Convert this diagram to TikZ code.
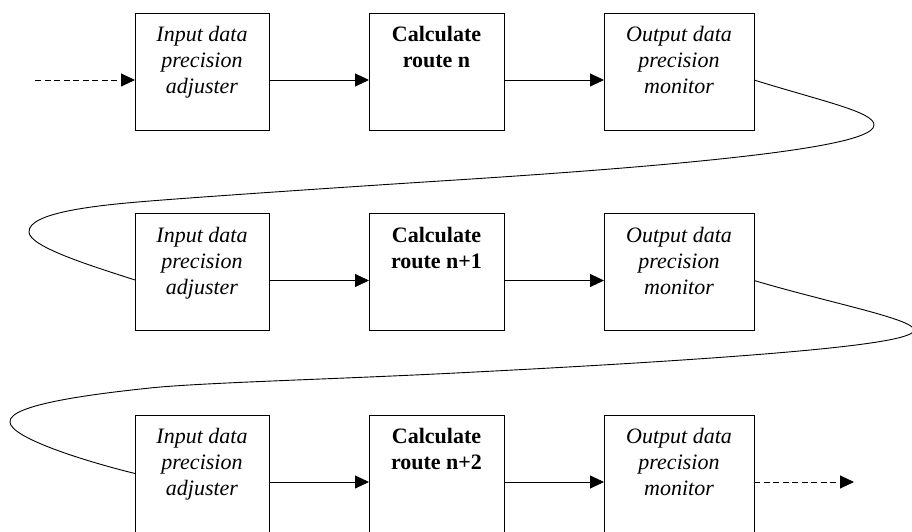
\documentclass[tikz,border=0pt]{standalone}
\usepackage{fontspec}
\setmainfont{Liberation Serif}
\usetikzlibrary{arrows.meta}
\begin{document}
\begin{tikzpicture}[x=1pt,y=1pt,
  box/.style={draw, line width=0.9pt, minimum height=117pt, inner sep=0pt, outer sep=0pt},
  boxtxt/.style={font=\fontsize{22}{26}\selectfont, align=center, inner sep=0pt, anchor=north},
  flow/.style={line width=0.9pt, -{Triangle[length=14pt,width=13pt]}},
  dflow/.style={flow, dash pattern=on 6pt off 3.5pt},
  loop/.style={line width=0.9pt}]
\useasboundingbox (0,0) rectangle (912,532);
\foreach \r/\yy/\lab in {1/460.5/n, 2/260/n+1, 3/58.5/n+2}{
  \node[box, minimum width=134pt] (a\r) at (202,\yy) {};
  \node[box, minimum width=135pt] (b\r) at (436.5,\yy) {};
  \node[box, minimum width=150pt] (c\r) at (679,\yy) {};
  \node[boxtxt] (ta\r) at ([yshift=-13.5pt]a\r.north) {\textit{Input data}\\\textit{precision}\\\textit{adjuster}};
  \node[boxtxt] (tb\r) at ([yshift=-13.5pt]b\r.north) {\textbf{Calculate}\\\textbf{route \lab}};
  \node[boxtxt] (tc\r) at ([yshift=-13.5pt]c\r.north) {\textit{Output data}\\\textit{precision}\\\textit{monitor}};
  \draw[flow] ([yshift=-8.5pt]a\r.east) -- ([yshift=-8.5pt]b\r.west);
  \draw[flow] ([yshift=-8.5pt]b\r.east) -- ([yshift=-8.5pt]c\r.west);
}
\coordinate (in) at (35,452);
\coordinate (out) at (854,50);
\draw[dflow] (in) -- ([yshift=-8.5pt]a1.west);
\draw[dflow] ([yshift=-8.5pt]c3.east) -- (out);
\coordinate (s1) at ([yshift=-8.5pt]c1.east);
\coordinate (e1) at ([yshift=-8pt]a2.west);
\coordinate (s2) at ([yshift=-8.5pt]c2.east);
\coordinate (e2) at (a3.west);
\draw[loop] (s1) .. controls (825,430) and (874,420) .. (874,407)
  .. controls (874,392) and (800,374) .. (456,352)
  .. controls (330,344) and (200,335) .. (150,331)
  .. controls (100,327) and (28,320) .. (29,300)
  .. controls (29,285) and (95,265) .. (e1);
\draw[loop] (s2) .. controls (830,229) and (914,213) .. (914,202)
  .. controls (914,191) and (830,178) .. (456,159)
  .. controls (330,152.6) and (200,149.3) .. (150,144)
  .. controls (100,138.7) and (8,128) .. (10,110)
  .. controls (10,95) and (80,72) .. (e2);
\end{tikzpicture}
\end{document}
